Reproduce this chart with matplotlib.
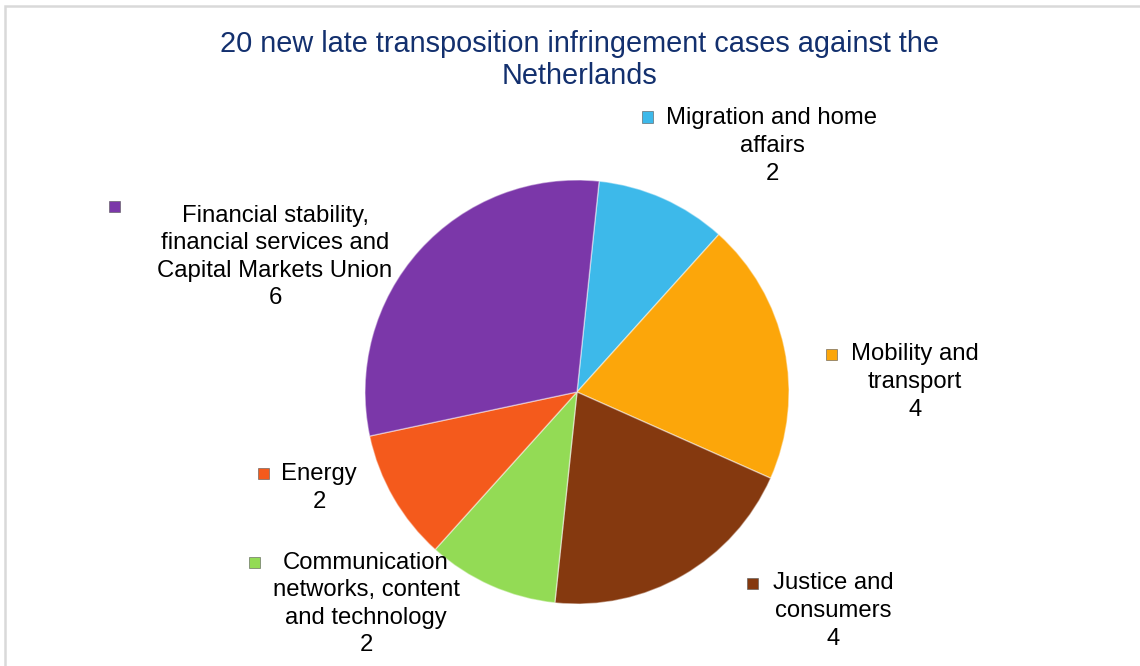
import matplotlib
matplotlib.use('Agg')
import matplotlib.pyplot as plt
from matplotlib.patches import Rectangle

plt.rcParams['font.family'] = ['Liberation Sans', 'DejaVu Sans']

# data (clockwise from the top)
categories = ['Migration and home\naffairs', 'Mobility and\ntransport',
              'Justice and\nconsumers', 'Communication\nnetworks, content\nand technology',
              'Energy', 'Financial stability,\nfinancial services and\nCapital Markets Union']
cases = [2, 4, 4, 2, 2, 6]
colors = ['#3DB9EA', '#FCA60A', '#85390F', '#93DB55', '#F45A1C', '#7B37A9']

title = '20 new late transposition infringement cases against the\nNetherlands'

W, H = 1140, 666
# label layout in pixels: text centre (x, y), key square (x, y)
text_pos = [(772, 146), (915, 382), (833, 611), (366, 604), (319, 488), (275, 257)]
key_pos = [(647, 117), (831, 354), (752, 583), (254, 562), (263, 473), (115, 206)]

fig = plt.figure(figsize=(W / 100, H / 100), dpi=100)

# frame (only top and left edges visible in the crop)
fig.patches.append(Rectangle((5 / W, -0.1), 1.2, 1 - 6 / H + 0.1,
                             transform=fig.transFigure, fill=False,
                             edgecolor='#D9D9D9', linewidth=1.8))

cx, cy, r = 577, 392, 212
ax = fig.add_axes([(cx - r) / W, (H - cy - r) / H, 2 * r / W, 2 * r / H])
wedges, _ = ax.pie(cases, colors=colors, startangle=84, counterclock=False,
                   radius=1,
                   wedgeprops=dict(edgecolor=(1, 1, 1, 0.45), linewidth=1.0))
ax.set_xlim(-1, 1)
ax.set_ylim(-1, 1)
ax.axis('off')

fig.text(580 / W, 1 - 60 / H, title, ha='center', va='center',
         fontsize=20.8, color='#13306E', linespacing=1.16)

for lab, val, c, (tx, ty), (kx, ky) in zip(categories, cases, colors, text_pos, key_pos):
    fig.text(tx / W, 1 - ty / H, '%s\n%d' % (lab, val), ha='center', va='center',
             fontsize=17.2, color='black', linespacing=1.33)
    fig.patches.append(Rectangle(((kx - 5.5) / W, 1 - (ky + 5.5) / H), 11 / W, 11 / H,
                                 transform=fig.transFigure, facecolor=c,
                                 edgecolor='#555555', linewidth=0.4))

plt.savefig('out.png', dpi=100)
